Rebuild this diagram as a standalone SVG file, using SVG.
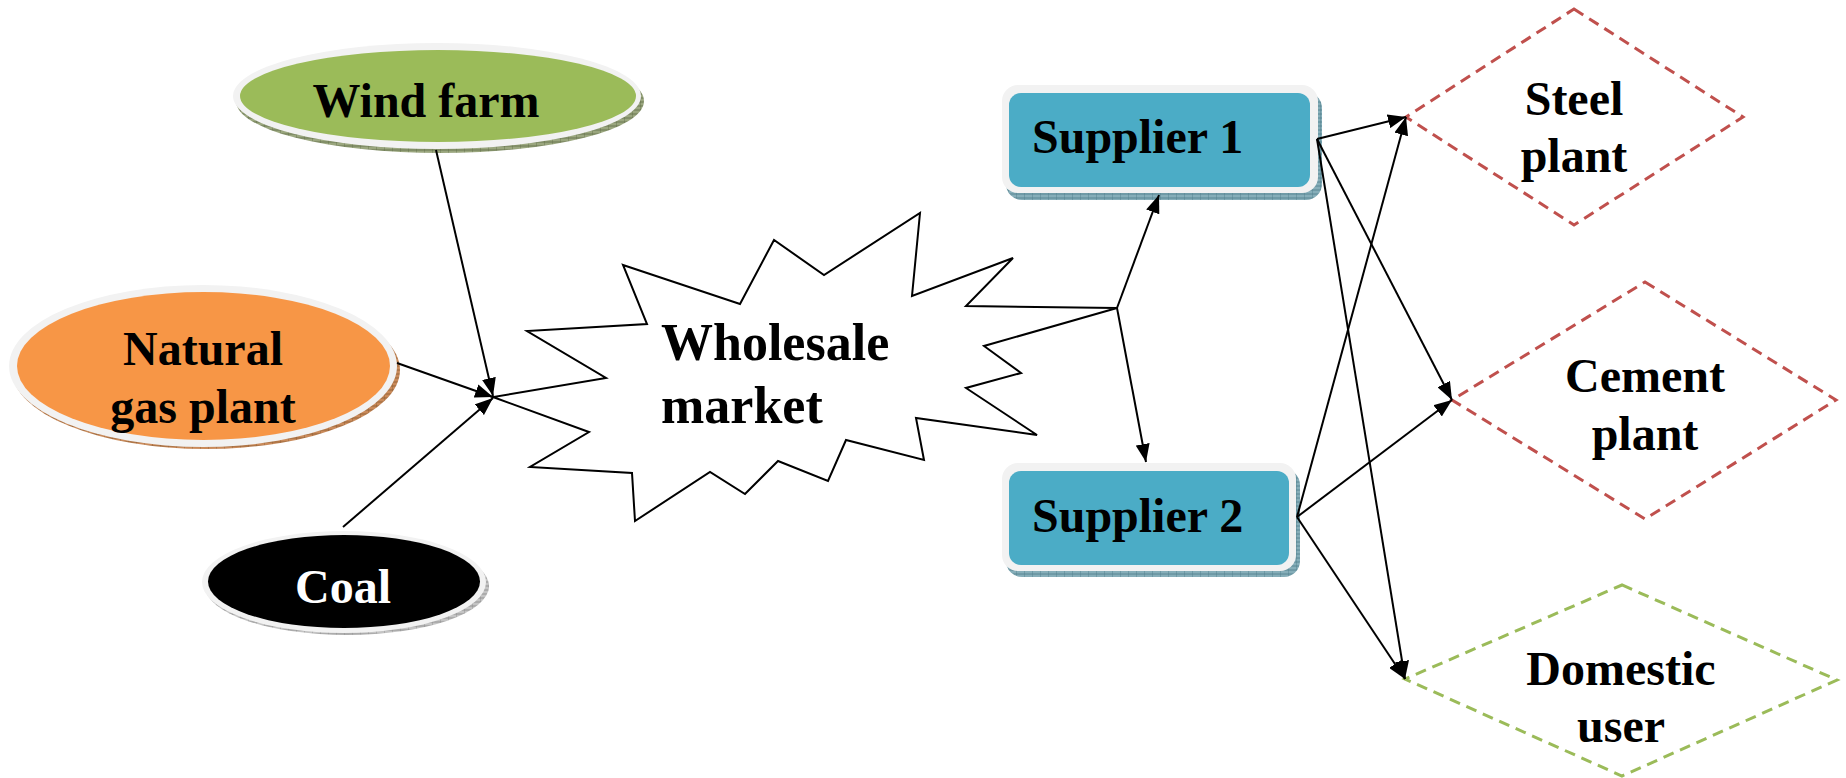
<svg xmlns="http://www.w3.org/2000/svg" width="1846" height="778" viewBox="0 0 1846 778">
<style>
.lbl{font-family:"Liberation Serif","Times New Roman",serif;font-weight:bold;font-size:48px;fill:#000;text-anchor:middle}
.lft{text-anchor:start}
.ring{fill:#f2f2f2}
.conn{stroke:#000;stroke-width:2;fill:none}
.dred{fill:none;stroke:#c0504d;stroke-width:3;stroke-dasharray:11 7}
.dgrn{fill:none;stroke:#9bbb59;stroke-width:3;stroke-dasharray:11 7}
</style>
<defs>
<marker id="arr" markerUnits="userSpaceOnUse" markerWidth="18" markerHeight="14" refX="18" refY="7" orient="auto">
<path d="M0,0 L18,7 L0,14 Z" fill="#000"/>
</marker>
<pattern id="pg" width="8" height="4" patternUnits="userSpaceOnUse"><rect width="8" height="4" fill="#9aa67e"/><path d="M0,0V4M0,2H8" stroke="#5f6b45" stroke-width="0.8"/></pattern>
<pattern id="po" width="8" height="4" patternUnits="userSpaceOnUse"><rect width="8" height="4" fill="#c98a5a"/><path d="M0,0V4M0,2H8" stroke="#8a5a30" stroke-width="0.8"/></pattern>
<pattern id="pk" width="8" height="4" patternUnits="userSpaceOnUse"><rect width="8" height="4" fill="#c4c4c4"/><path d="M0,0V4M0,2H8" stroke="#888" stroke-width="0.8"/></pattern>
<pattern id="pb" width="8" height="4" patternUnits="userSpaceOnUse"><rect width="8" height="4" fill="#86aeb9"/><path d="M0,0V4M0,2H8" stroke="#4d7c8a" stroke-width="0.8"/></pattern>
</defs>

<g id="wind-farm">
<ellipse cx="440" cy="101" rx="204" ry="52" fill="url(#pg)"/>
<ellipse class="ring" cx="437" cy="96" rx="204" ry="53"/>
<ellipse cx="438" cy="96" rx="198" ry="46" fill="#9bbb59"/>
<text class="lbl" x="426" y="117">Wind farm</text>
</g>

<g id="natural-gas-plant">
<ellipse cx="206" cy="370" rx="194" ry="79" fill="url(#po)"/>
<ellipse class="ring" cx="203" cy="366" rx="194" ry="81"/>
<ellipse cx="203.5" cy="366" rx="186.5" ry="74" fill="#f79646"/>
<text class="lbl" x="203" y="365">Natural</text>
<text class="lbl" x="203" y="423">gas plant</text>
</g>

<g id="coal">
<ellipse cx="347" cy="586" rx="142" ry="49" fill="url(#pk)"/>
<ellipse class="ring" cx="344" cy="582" rx="142" ry="51"/>
<ellipse cx="344" cy="581.5" rx="136" ry="46.5" fill="#000"/>
<text class="lbl" x="343" y="603" fill="#fff" style="fill:#fff">Coal</text>
</g>

<g id="wholesale-market">
<polygon points="623,265 740,304 774,240 824,275 920,213 912,296 1013,258 966,306 1117,308 984,346 1021,373 966,388 1037,435 916,418 924,460 846,440 828,481 778,461 745,494 710,472 635,521 632,473 530,467 589,432 493,397 606,378 527,331 647,324" fill="#fff" stroke="#000" stroke-width="2" stroke-linejoin="miter"/>
<text class="lbl lft" x="661" y="360" style="font-size:52px">Wholesale</text>
<text class="lbl lft" x="661" y="423" style="font-size:52px">market</text>
</g>

<g id="supplier-1">
<rect x="1006" y="92" width="316" height="108" rx="16" fill="url(#pb)"/>
<rect class="ring" x="1002" y="85" width="316" height="108" rx="16"/>
<rect x="1009" y="93" width="301" height="94" rx="12" fill="#4bacc6"/>
<text class="lbl lft" x="1032" y="153">Supplier 1</text>
</g>

<g id="supplier-2">
<rect x="1006" y="469" width="294" height="108" rx="16" fill="url(#pb)"/>
<rect class="ring" x="1002" y="463" width="294" height="108" rx="16"/>
<rect x="1009" y="471" width="280" height="94" rx="12" fill="#4bacc6"/>
<text class="lbl lft" x="1032" y="532">Supplier 2</text>
</g>

<g id="steel-plant">
<polygon class="dred" points="1574,9 1743,117 1574,225 1406,117"/>
<text class="lbl" x="1574" y="115">Steel</text>
<text class="lbl" x="1574" y="172">plant</text>
</g>

<g id="cement-plant">
<polygon class="dred" points="1645,282 1836,400 1645,519 1452,400"/>
<text class="lbl" x="1645" y="392">Cement</text>
<text class="lbl" x="1645" y="450">plant</text>
</g>

<g id="domestic-user">
<polygon class="dgrn" points="1622,585 1837,680 1622,776 1405,679"/>
<text class="lbl" x="1621" y="685">Domestic</text>
<text class="lbl" x="1621" y="742">user</text>
</g>

<g id="connectors">
<line class="conn" x1="436" y1="150" x2="493" y2="396" marker-end="url(#arr)"/>
<line class="conn" x1="397" y1="363" x2="493" y2="397" marker-end="url(#arr)"/>
<line class="conn" x1="343" y1="527" x2="493" y2="398" marker-end="url(#arr)"/>
<line class="conn" x1="1117" y1="308" x2="1159" y2="195" marker-end="url(#arr)"/>
<line class="conn" x1="1117" y1="308" x2="1146" y2="462" marker-end="url(#arr)"/>
<line class="conn" x1="1317" y1="139" x2="1406" y2="117" marker-end="url(#arr)"/>
<line class="conn" x1="1317" y1="139" x2="1452" y2="400" marker-end="url(#arr)"/>
<line class="conn" x1="1317" y1="139" x2="1405" y2="679" marker-end="url(#arr)"/>
<line class="conn" x1="1297" y1="517" x2="1406" y2="117" marker-end="url(#arr)"/>
<line class="conn" x1="1297" y1="517" x2="1452" y2="400" marker-end="url(#arr)"/>
<line class="conn" x1="1297" y1="517" x2="1405" y2="679" marker-end="url(#arr)"/>
</g>
</svg>
